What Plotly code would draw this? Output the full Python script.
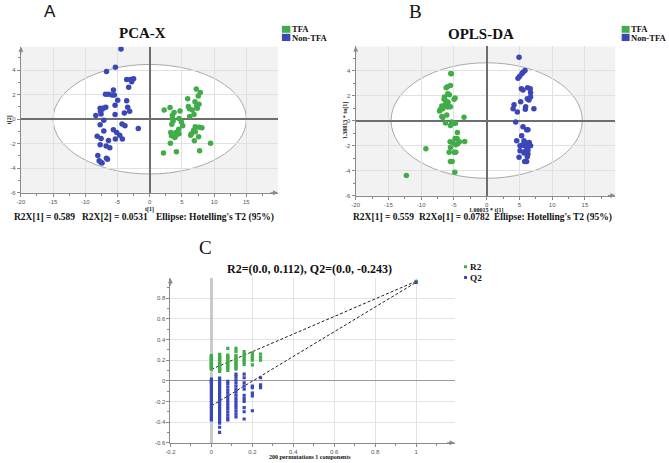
import plotly.graph_objects as go

W, H = 669, 463
GREEN = "#41ad49"
BLUE = "#3b47b6"

# ---------------- Panel A: PCA-X scores ----------------
pca_tfa_x = [7.23, 7.84, 7.54, 5.89, 7.02, 7.64, 7.28, 7.38, 5.99, 6.15, 6.61, 6.87, 6.2, 4.7, 3.16,
             2.24, 3.78, 3.52, 3.52, 4.55, 3.63, 4.91, 3.42, 5.12, 4.5, 7.07, 7.64, 8.1, 6.82, 7.07,
             6.46, 6.35, 3.26, 3.37, 4.05, 4.05, 3.88, 4.55, 7.59, 6.92, 9.44, 3.21, 4.14, 2.13, 7.74]
pca_tfa_y = [2.46, 2.19, 1.89, 1.68, 1.43, 1.22, 1.08, 0.89, 1.03, 0.86, 0.76, 0.38, 0.22, 0.68, 0.95,
             0.76, 0.54, 0.32, 0.05, 0.05, -0.14, -0.22, -0.41, -0.54, -0.81, -0.62, -0.65, -0.7, -0.89, -1.03,
             -1.19, -1.3, -1.08, -1.35, -1.08, -1.35, -1.49, -1.19, -1.43, -1.76, -1.97, -1.95, -2.65, -2.76, -2.57]
pca_non_x = [-4.46, -5.33, -6.71, -3.58, -3.0, -2.76, -2.5, -2.8, -3.27, -5.64, -5.85, -5.5, -6.87, -6.4,
             -4.97, -3.58, -5.38, -3.42, -3.12, -3.94, -5.38, -6.82, -7.13, -7.7, -7.4, -7.65, -7.55, -8.37,
             -7.13, -7.7, -5.64, -4.3, -3.84, -1.78, -5.13, -4.66, -4.25, -5.33, -6.4, -7.13, -8.16, -7.55,
             -7.7, -6.77, -6.2, -8.06, -6.72, -7.85, -7.6, -7.4, -6.56]
pca_non_y = [5.73, 4.24, 3.89, 3.24, 3.24, 3.24, 3.3, 3.05, 2.62, 2.38, 1.97, 1.97, 2.03, 2.03,
             1.54, 1.51, 1.14, 0.97, 0.65, 0.51, 0.38, 0.97, 0.92, 0.89, 0.81, 0.65, 0.43, 0.3,
             -0.08, -0.46, -0.86, -0.38, -0.54, -0.76, -1.08, -1.3, -1.62, -1.62, -1.73, -0.97, -1.38, -1.57,
             -2.08, -2.19, -2.32, -2.97, -3.19, -3.38, -3.51, -3.57, -3.27]

# ---------------- Panel B: OPLS-DA scores ----------------
opls_tfa_x = [-5.39, -5.48, -5.53, -5.99, -6.19, -5.94, -5.69, -6.45, -6.5, -4.82, -4.97, -6.19, -5.89,
              -6.35, -5.94, -5.53, -6.85, -7.05, -7.2, -6.7, -6.09, -6.85, -6.7, -3.46, -5.33, -5.03, -4.77,
              -6.29, -5.53, -4.47, -4.82, -4.52, -5.58, -5.18, -4.17, -3.36, -4.42, -4.72, -5.53, -5.73,
              -4.97, -4.72, -9.28, -5.53, -5.28, -4.87, -12.26]
opls_tfa_y = [3.74, 3.76, 2.81, 2.7, 2.62, 2.15, 2.07, 1.88, 1.7, 1.8, 1.7, 1.56, 1.46,
              1.27, 1.09, 1.11, 1.17, 0.9, 0.77, 0.95, 0.45, 0.32, 0.24, 0.26, -0.11, -0.21, -0.21,
              -0.19, -0.4, -0.95, -1.43, -1.43, -1.7, -1.75, -1.7, -1.67, -1.85, -1.93, -2.15, -2.54,
              -2.54, -2.54, -2.25, -3.28, -3.28, -4.13, -4.4]
opls_non_x = [4.94, 5.85, 5.54, 5.39, 5.04, 4.78, 6.25, 6.65, 5.29, 5.54, 6.7, 6.7, 6.2, 6.45, 5.19,
              4.18, 4.03, 5.95, 5.9, 7.21, 4.68, 4.43, 5.54, 6.1, 6.3, 5.34, 4.58, 5.69, 6.5, 6.1, 5.44,
              5.09, 5.8, 6.2, 5.09, 5.9, 6.3, 5.69, 4.94, 6.2, 5.8, 6.1, 6.7, 6.3]
opls_non_y = [5.06, 4.0, 3.87, 3.76, 3.55, 3.39, 2.62, 2.54, 2.54, 2.44, 2.23, 1.88, 1.75, 1.64, 1.51,
              1.27, 0.95, 1.11, 0.9, 0.95, 0.69, -0.11, -0.5, -0.74, -0.74, -1.22, -1.62, -1.62, -1.75, -1.8, -1.96,
              -2.01, -2.01, -2.15, -2.41, -2.46, -2.68, -2.6, -2.94, -2.89, -3.28, -3.28, -2.01, -2.38]

# ---------------- Panel C: permutation test ----------------
perm_r2 = {
    0.0: [0.112, 0.12, 0.128, 0.135, 0.142, 0.15, 0.158, 0.165, 0.172, 0.18, 0.188, 0.195, 0.202,
          0.21, 0.218, 0.225, 0.232, 0.24, 0.245],
    0.04: [0.092, 0.1, 0.11, 0.12, 0.13, 0.14, 0.15, 0.16, 0.17, 0.18, 0.19, 0.2, 0.21, 0.22, 0.23,
           0.24, 0.25, 0.257],
    0.08: [0.1, 0.115, 0.13, 0.145, 0.16, 0.175, 0.19, 0.205, 0.22, 0.235, 0.25, 0.315],
    0.12: [0.112, 0.125, 0.14, 0.155, 0.17, 0.185, 0.2, 0.215, 0.23, 0.245, 0.283, 0.315],
    0.16: [0.16, 0.18, 0.2, 0.22, 0.24, 0.26, 0.283],
    0.2: [0.155, 0.2, 0.22, 0.245, 0.27],
    0.24: [0.2, 0.23, 0.26],
}
perm_q2 = {
    0.0: [0.016, 0.0, -0.015, -0.03, -0.05, -0.07, -0.09, -0.11, -0.13, -0.15, -0.17, -0.19, -0.21,
          -0.23, -0.25, -0.27, -0.29, -0.31, -0.33, -0.35, -0.37, -0.38],
    0.04: [0.026, 0.01, -0.01, -0.03, -0.05, -0.07, -0.09, -0.11, -0.13, -0.15, -0.17, -0.19, -0.21,
           -0.23, -0.25, -0.27, -0.29, -0.31, -0.33, -0.35, -0.37, -0.39, -0.41, -0.45, -0.5],
    0.08: [-0.006, -0.03, -0.06, -0.09, -0.12, -0.15, -0.18, -0.21, -0.24, -0.27, -0.3, -0.33, -0.36, -0.38],
    0.12: [0.064, 0.04, 0.01, -0.02, -0.05, -0.08, -0.11, -0.14, -0.17, -0.2, -0.23, -0.26, -0.29, -0.32, -0.35],
    0.16: [0.064, 0.03, -0.02, -0.05, -0.08, -0.14, -0.17, -0.2, -0.26, -0.3, -0.37],
    0.2: [-0.05, -0.065, -0.12, -0.145, -0.29],
    0.24: [0.03, -0.04, -0.065],
}
orig_x = 1.0
orig_r2 = 0.965
orig_q2 = 0.955
r2_intercept = 0.112
q2_intercept = -0.243

# tick labels
a_xticks = [-20, -15, -10, -5, 0, 5, 10, 15]
a_xticktext = ["-20", "-15", "-10", "-5", "0", "5", "10", "15"]
a_yticks = [-6, -4, -2, 0, 2, 4]
a_yticktext = ["-6", "-4", "-2", "0", "2", "4"]
c_xticks = [-0.2, 0, 0.2, 0.4, 0.6, 0.8, 1]
c_xticktext = ["-0.2", "0", "0.2", "0.4", "0.6", "0.8", "1"]
c_yticks = [-0.6, -0.4, -0.2, 0, 0.2, 0.4, 0.6, 0.8]
c_yticktext = ["-0.6", "-0.4", "-0.2", "0", "0.2", "0.4", "0.6", "0.8"]


def px(x):
    return x / W


def py(y):
    return 1 - y / H


fig = go.Figure()

pt = dict(size=5.5, line=dict(width=0))
fig.add_trace(go.Scatter(x=pca_tfa_x, y=pca_tfa_y, mode="markers", marker=dict(color=GREEN, **pt),
                         xaxis="x", yaxis="y", showlegend=False, name="TFA"))
fig.add_trace(go.Scatter(x=pca_non_x, y=pca_non_y, mode="markers", marker=dict(color=BLUE, **pt),
                         xaxis="x", yaxis="y", showlegend=False, name="Non-TFA"))
fig.add_trace(go.Scatter(x=opls_tfa_x, y=opls_tfa_y, mode="markers", marker=dict(color=GREEN, **pt),
                         xaxis="x2", yaxis="y2", showlegend=False, name="TFA"))
fig.add_trace(go.Scatter(x=opls_non_x, y=opls_non_y, mode="markers", marker=dict(color=BLUE, **pt),
                         xaxis="x2", yaxis="y2", showlegend=False, name="Non-TFA"))

# permutation points
r2x, r2y, q2x, q2y = [], [], [], []
for k, vals in perm_r2.items():
    r2x += [k] * len(vals)
    r2y += vals
for k, vals in perm_q2.items():
    q2x += [k] * len(vals)
    q2y += vals
r2x.append(orig_x); r2y.append(orig_r2)
q2x.append(orig_x); q2y.append(orig_q2)

fig.add_trace(go.Scatter(x=[0, orig_x], y=[r2_intercept, orig_r2], mode="lines",
                         line=dict(color="#222", width=1, dash="3px,2px"),
                         xaxis="x3", yaxis="y3", showlegend=False))
fig.add_trace(go.Scatter(x=[0, orig_x], y=[q2_intercept, orig_q2], mode="lines",
                         line=dict(color="#222", width=1, dash="3px,2px"),
                         xaxis="x3", yaxis="y3", showlegend=False))
sq = dict(size=3.2, symbol="square", line=dict(width=0))
fig.add_trace(go.Scatter(x=r2x, y=r2y, mode="markers", marker=dict(color=GREEN, **sq),
                         xaxis="x3", yaxis="y3", showlegend=False, name="R2"))
fig.add_trace(go.Scatter(x=q2x, y=q2y, mode="markers", marker=dict(color=BLUE, **sq),
                         xaxis="x3", yaxis="y3", showlegend=False, name="Q2"))

tickfont = dict(family="Liberation Sans", size=6, color="#555")
axcommon = dict(showline=True, linecolor="#8a8a8a", linewidth=1, ticks="outside", ticklen=3,
                tickcolor="#8a8a8a", tickfont=tickfont, showgrid=True, zeroline=True, fixedrange=True)

layout = dict(
    width=W, height=H, margin=dict(l=0, r=0, t=0, b=0),
    paper_bgcolor="white", plot_bgcolor="rgba(0,0,0,0)", showlegend=False,
    xaxis=dict(domain=[px(16), px(275)], range=[-20, 19.9], anchor="y",
               tickvals=a_xticks, ticktext=a_xticktext, gridcolor="#e1e1e1",
               zerolinecolor="#6e6e6e", zerolinewidth=1.5,
               minor=dict(ticks="outside", ticklen=2, tickcolor="#8a8a8a", dtick=2.5, showgrid=False),
               **axcommon),
    yaxis=dict(domain=[py(194), py(47)], range=[-6, 5.92], anchor="x",
               tickvals=a_yticks, ticktext=a_yticktext, gridcolor="#e1e1e1",
               zerolinecolor="#6e6e6e", zerolinewidth=1.5,
               minor=dict(ticks="outside", ticklen=2, tickcolor="#8a8a8a", dtick=1, showgrid=False),
               **axcommon),
    xaxis2=dict(domain=[px(353.3), px(615)], range=[-20, 19.65], anchor="y2",
                tickvals=a_xticks, ticktext=a_xticktext, gridcolor="#e1e1e1",
                zerolinecolor="#6e6e6e", zerolinewidth=1.5,
                minor=dict(ticks="outside", ticklen=2, tickcolor="#8a8a8a", dtick=2.5, showgrid=False),
                **axcommon),
    yaxis2=dict(domain=[py(196.8), py(46.7)], range=[-6, 5.93], anchor="x2",
                tickvals=a_yticks, ticktext=a_yticktext, gridcolor="#e1e1e1",
                zerolinecolor="#6e6e6e", zerolinewidth=1.5,
                minor=dict(ticks="outside", ticklen=2, tickcolor="#8a8a8a", dtick=1, showgrid=False),
                **axcommon),
    xaxis3=dict(domain=[px(166.7), px(453)], range=[-0.2, 1.188], anchor="y3",
                tickvals=c_xticks, ticktext=c_xticktext, gridcolor="#e3e3e3",
                zerolinecolor="#c9c9c9", zerolinewidth=3,
                minor=dict(ticks="outside", ticklen=2, tickcolor="#8a8a8a", dtick=0.1, showgrid=False),
                **axcommon),
    yaxis3=dict(domain=[py(445.6), py(280)], range=[-0.6, 0.995], anchor="x3",
                tickvals=c_yticks, ticktext=c_yticktext, gridcolor="#e3e3e3",
                zerolinecolor="#9a9a9a", zerolinewidth=1,
                minor=dict(ticks="outside", ticklen=2, tickcolor="#8a8a8a", dtick=0.1, showgrid=False),
                **axcommon),
)
fig.update_layout(**layout)

shapes = []
# gray plot backgrounds and white Hotelling ellipses for A and B
for xr, yr, ex, ey in [("x", "y", 15, 4.47), ("x2", "y2", 14.6, 4.62)]:
    shapes.append(dict(type="rect", xref=xr + " domain", yref=yr + " domain", x0=0, x1=1, y0=0, y1=1,
                       fillcolor="#f2f2f2", line=dict(width=0), layer="below"))
    shapes.append(dict(type="circle", xref=xr, yref=yr, x0=-ex, x1=ex, y0=-ey, y1=ey,
                       fillcolor="white", line=dict(color="#a9a9a9", width=1), layer="below"))
# legend swatches
for x0, x1 in [(279, 287.5), (621.3, 629.3)]:
    shapes.append(dict(type="rect", xref="paper", yref="paper", x0=px(x0), x1=px(x1), y0=py(33), y1=py(26),
                       fillcolor=GREEN, line=dict(width=0)))
    shapes.append(dict(type="rect", xref="paper", yref="paper", x0=px(x0), x1=px(x1), y0=py(41.3), y1=py(34),
                       fillcolor=BLUE, line=dict(width=0)))
for yc, col in [(268.5, GREEN), (279.3, BLUE)]:
    shapes.append(dict(type="rect", xref="paper", yref="paper", x0=px(462.5), x1=px(465.5),
                       y0=py(yc + 1.5), y1=py(yc - 1.5), fillcolor=col, line=dict(width=0)))
fig.update_layout(shapes=shapes)

ann = []
serif = "Liberation Serif"


def text(t, x, y, size, family=serif, bold=True, xanchor="center", color="#111", angle=0):
    ann.append(dict(text=("<b>%s</b>" % t) if bold else t, x=px(x), y=py(y), xref="paper", yref="paper",
                    showarrow=False, xanchor=xanchor, yanchor="middle", textangle=angle, borderpad=0,
                    font=dict(family=family, size=size, color=color)))


# panel letters
text("A", 45, 12, 17, family="Liberation Sans", bold=False)
text("B", 413.5, 11.5, 19, bold=False)
text("C", 202.5, 249, 19, bold=False)
# titles
text("PCA-X", 139, 33.5, 15)
text("OPLS-DA", 480, 34, 15)
text("R2=(0.0, 0.112), Q2=(0.0, -0.243)", 306.7, 270.7, 12)
# legends
text("TFA", 287.8, 29.2, 8.6, xanchor="left")
text("Non-TFA", 287.8, 38.2, 8.6, xanchor="left")
text("TFA", 629.5, 29.2, 8.6, xanchor="left")
text("Non-TFA", 629.5, 38.2, 8.6, xanchor="left")
text("R2", 467, 268.3, 9.2, xanchor="left")
text("Q2", 467, 279.6, 9.2, xanchor="left")
# axis titles
text("t[1]", 145.5, 211, 6)
text("t[2]", 4, 120, 6, angle=-90)
text("1.00015 * t[1]", 485, 211.5, 6)
text("1.38813 * to[1]", 342.5, 121, 6, angle=-90)
text("200 permutations 1 components", 307, 459.5, 6)
# statistics lines
text("R2X[1] = 0.589", 8, 218.5, 9.5, xanchor="left")
text("R2X[2] = 0.0531", 77, 218.5, 9.5, xanchor="left")
text("Ellipse: Hotelling's T2 (95%)", 150.7, 218.5, 9.5, xanchor="left")
text("R2X[1] = 0.559", 349.7, 218.5, 9.5, xanchor="left")
text("R2Xo[1] = 0.0782", 415.7, 218.5, 9.5, xanchor="left")
text("Ellipse: Hotelling's T2 (95%)", 491.3, 218.5, 9.5, xanchor="left")

# axis arrows
for xr, yr in [("x", "y"), ("x2", "y2"), ("x3", "y3")]:
    ann.append(dict(x=1, y=0, xref=xr + " domain", yref=yr + " domain", ax=-9, ay=0, axref="pixel",
                    ayref="pixel", showarrow=True, arrowhead=2, arrowsize=1, arrowwidth=1,
                    arrowcolor="#8a8a8a", text=""))
    ann.append(dict(x=0, y=1, xref=xr + " domain", yref=yr + " domain", ax=0, ay=9, axref="pixel",
                    ayref="pixel", showarrow=True, arrowhead=2, arrowsize=1, arrowwidth=1,
                    arrowcolor="#8a8a8a", text=""))
fig.update_layout(annotations=ann)

fig.write_html("out.html")
